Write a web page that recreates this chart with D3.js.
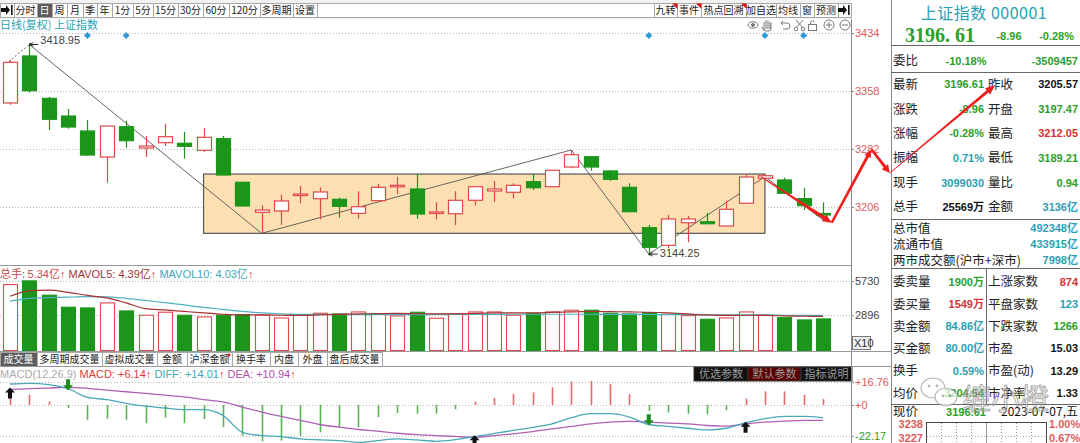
<!DOCTYPE html>
<html><head><meta charset="utf-8">
<script src="https://cdn.jsdelivr.net/npm/d3@7"></script>
<style>
body{margin:0;background:#fff;overflow:hidden;}
svg{display:block;font-family:"Liberation Sans","Noto Sans CJK SC",sans-serif;}
</style></head><body>
<div id="container"></div>
<script>
// daily candles, 上证指数
const open  = [3342.3,3403.9,3348.4,3325.2,3305.6,3271.5,3311.2,3283.3,3290.3,3289.5,3280.3,3295.5,3238.4,3199.1,3200.8,3221.3,3216.9,3216.1,3197.7,3214.3,3232.6,3229.6,3198.5,3197.2,3214.8,3227.0,3225.3,3239.2,3232.6,3258.4,3271.9,3253.2,3231.8,3178.9,3155.8,3185.4,3186.7,3181.1,3210.9,3243.6,3241.4,3216.9,3197.47]
const high  = [3398.6,3418.95,3350.5,3334.4,3320.0,3312.1,3319.1,3299.0,3315.2,3304.3,3309.5,3299.0,3238.4,3208.2,3222.1,3233.5,3231.8,3218.2,3226.6,3236.1,3245.7,3249.2,3212.2,3226.6,3232.6,3240.1,3237.1,3249.2,3254.1,3280.7,3272.0,3254.5,3237.1,3182.4,3195.5,3194.2,3198.5,3214.3,3249.2,3249.2,3244.4,3230.9,3212.05]
const low   = [3340.0,3356.0,3306.9,3308.6,3273.2,3237.8,3283.7,3271.5,3285.9,3269.3,3278.1,3247.9,3207.3,3171.5,3182.4,3210.9,3189.9,3192.0,3190.7,3214.3,3223.0,3190.7,3189.9,3182.4,3208.2,3212.6,3217.4,3228.3,3231.8,3256.7,3253.6,3240.1,3199.8,3144.25,3151.9,3159.7,3183.3,3180.2,3210.9,3243.6,3223.0,3202.1,3189.21]
const close = [3395.6,3358.4,3320.9,3310.8,3274.1,3312.1,3292.9,3285.9,3298.1,3285.5,3297.3,3247.9,3207.3,3202.1,3213.9,3223.0,3225.7,3206.9,3206.4,3231.8,3234.4,3196.8,3199.5,3214.8,3232.6,3229.6,3234.4,3231.3,3254.1,3274.5,3258.4,3242.3,3199.8,3153.2,3190.3,3190.3,3184.1,3203.0,3245.3,3247.0,3224.0,3207.7,3196.61]

const volume = [5435,5741,4560,3568,3510,3924,3263,2907,3155,2907,2767,2907,2957,2907,2684,2957,3073,3015,3180,3040,2850,3155,2660,3015,3180,3180,2907,3073,3180,3320,3320,3073,3015,3122,2990,2875,2577,2684,3180,2907,2709,2519,2602]
const mavol5 = [4477,4915,4973,4791,4543,4337,3924,3453,3345,3221,3098,2990,2932,2932,2908,2891,2932,2974,3015,3040,3056,3040,3015,3015,3056,3098,3098,3098,3139,3180,3221,3205,3180,3155,3098,3015,2932,2891,2908,2891,2850,2825,2808]
const mavol10 = [4064,4295,4353,4403,4436,4419,4295,4130,3940,3758,3552,3387,3221,3098,3015,2974,2974,2974,2957,2957,2957,2957,2974,2974,2974,2974,2990,2990,2990,2990,2990,2974,2974,2974,2957,2957,2932,2932,2932,2932,2908,2891,2891]

const macd = [7.07,7.3,2.5,-2.2,-10.7,-9.9,-10.7,-13.1,-9.2,-13.1,-10.2,-16.0,-22.3,-26.2,-25.7,-22.3,-19.7,-16.0,-16.0,-8.7,-5.8,-6.3,-6.3,-3.1,2.5,5.1,8.0,9.0,12.7,16.8,17.3,14.9,7.8,-4.4,-5.5,-6.3,-6.8,-3.9,4.7,9.8,9.8,7.3,4.2]
const diff = [15.1,15.6,14.7,11.7,5.4,3.9,1.2,-0.9,-2.2,-3.4,-3.4,-7.5,-19.7,-22.1,-22.8,-24.5,-25.2,-25.7,-27.0,-25.7,-24.5,-25.2,-26.2,-25.0,-22.8,-20.6,-18.4,-16.2,-13.6,-9.2,-6.3,-6.3,-8.7,-14.1,-15.5,-16.8,-17.9,-16.8,-12.8,-9.9,-8.2,-8.2,-9.2]
const dea = [11.2,11.7,12.2,12.7,12.0,10.7,9.5,8.3,7.1,5.8,3.9,2.2,-1.5,-5.1,-8.2,-11.1,-14.1,-16.0,-17.7,-18.9,-20.4,-21.4,-22.1,-22.7,-23.3,-22.1,-20.8,-19.2,-17.2,-15.5,-13.6,-12.4,-11.9,-12.4,-13.1,-13.6,-14.8,-15.3,-13.6,-12.4,-11.7,-11.1,-11.1]

// drawn annotations
const zigIdx = [1,13,29,33,39,42]
const zigPrice = [3418.95,3171.5,3280.7,3144.25,3245.7,3189.21]
const boxIdx = [10,39]
const boxPrice = [3171.5,3249.2]
const signalIdx = [4,6,33,39,41]
const buyIdx = [0,24,38]
const sellIdx = [3,33]
const fcIdx = [38.8,42.45,44.5,45.45,50.9]
const fcPrice = [3245.7,3185.4,3281.6,3250.5,3365.9]

const priceTicks = [3206,3282,3358,3434]
const volTicks = [2896,5730]
const macdTicks = [-22.17,0,16.76]

const width = 1080
const height = 443
const plotRight = 851
const panelLeft = 891
const candleW = 14
const green = "#1b961b"
const red = "#e0484c"
const teal = "#2a9fb4"
const txtGreen = "#2aa02a"
const txtRed = "#d23232"
const cjk = "'Noto Sans CJK SC',sans-serif"

const x = d3.scaleLinear().domain([0,42]).range([10,823])
const y = d3.scaleLinear().domain([3206,3434]).range([207,33])
const yVol = d3.scaleLinear().domain([0,5730]).range([350.5,281])
const yMacd = d3.scaleLinear().domain([-22.17,16.76]).range([435.7,381.7])
const n = close.length
const px = i => Math.round(x(i)) + 0.5

const svg = d3.select("#container").append("svg").attr("width", width).attr("height", height)
svg.append("rect").attr("width", width).attr("height", height).attr("fill", "#fff")

// ---------- top toolbar
const leftTabs = [["",14],["分时",23],["日",15],["周",15],["月",16],["季",14],["年",15],["1分",21],["5分",20],["15分",25],["30分",25],["60分",26],["120分",31],["多周期",33],["设置",24]]
const rightTabs = [["九转",23],["事件",24],["热点回溯",45],["加自选",30],["均线",24],["窗",14],["预测",24],["",13]]

svg.append("rect").attr("x",0).attr("y",0).attr("width",plotRight).attr("height",19).attr("fill","#f2f2f2")
svg.append("rect").attr("x",317.5).attr("y",3.5).attr("width",337).attr("height",14).attr("fill","#fff").attr("stroke","#aaa")

function drawTabs(items, x0, y0, h, selected, size) {
  let cx = x0
  items.forEach((t, k) => {
    const sel = t[0] === selected
    svg.append("rect").attr("x", cx + 0.5).attr("y", y0 + 0.5).attr("width", t[1]).attr("height", h)
      .attr("fill", sel ? "#5c5c5c" : "#fff").attr("stroke", "#a8a8a8")
    svg.append("text").attr("x", cx + t[1] / 2).attr("y", y0 + h / 2 + 4).attr("text-anchor", "middle")
      .attr("font-family", cjk).attr("font-size", size).attr("fill", sel ? "#fff" : "#222").text(t[0])
    t.x = cx
    cx += t[1]
  })
}
drawTabs(leftTabs, 0, 3, 14, "日", 10)
drawTabs(rightTabs, 654, 3, 14, null, 10)
// corner marks
rightTabs.slice(0,3).forEach(t => {
  const r = t.x + t[1]
  svg.append("path").attr("d", `M${r-5},3.5 L${r+0.5},3.5 L${r+0.5},9 Z`).attr("fill", "#e01010")
})
// dock icons
function dockIcon(x0) {
  const g = svg.append("g").attr("transform", `translate(${x0},10)`)
  g.append("path").attr("d", "M-5,-2 L0,-2 L0,-5 L4,0 L0,5 L0,2 L-5,2 Z").attr("fill", "#111")
  g.append("rect").attr("x", 5).attr("y", -5).attr("width", 1.6).attr("height", 10).attr("fill", "#111")
}
dockIcon(6)
dockIcon(843)

// ---------- main price panel
svg.append("text").attr("x",0).attr("y",29).attr("font-family",cjk).attr("font-size",11).attr("fill",teal).text("日线(复权)  上证指数")

svg.append("g").selectAll("line").data(priceTicks).join("line")
  .attr("x1",0).attr("x2",plotRight).attr("y1",d=>Math.round(y(d))+0.5).attr("y2",d=>Math.round(y(d))+0.5)
  .attr("stroke","#b8b8b8").attr("stroke-dasharray","1,2")

// tool icons
const icons = svg.append("g").attr("fill","none").attr("stroke","#777").attr("stroke-width",1)
icons.append("ellipse").attr("cx",753).attr("cy",25).attr("rx",5).attr("ry",3.2)
icons.append("circle").attr("cx",753).attr("cy",25).attr("r",1.5).attr("fill","#777")
icons.append("path").attr("d","M764,30 L764,22 M766,29 L766,20 M768,29 L768,20.5 M770,29 L770,22 M762,27 Q763,31 766,31 L769,31 Q771,31 771,28 L771,23")
icons.append("path").attr("d","M781,23 L787,23 Q790,23 790,26 Q790,29 787,29 L783,29 M781,23 L783,21 M781,23 L783,25")
icons.append("path").attr("d","M796,20 L803,28 M803,20 L796,28")
icons.append("circle").attr("cx",796).attr("cy",29).attr("r",1.8)
icons.append("circle").attr("cx",803).attr("cy",29).attr("r",1.8)
icons.append("rect").attr("x",808.5).attr("y",24.5).attr("width",8).attr("height",6)
icons.append("path").attr("d","M810.5,24.5 L810.5,22 Q812.5,19 814.5,22")
icons.append("circle").attr("cx",829).attr("cy",25).attr("r",5)
icons.append("path").attr("d","M826,25 L832,25 M829,22 L829,28")
icons.append("circle").attr("cx",845).attr("cy",25).attr("r",5)
icons.append("path").attr("d","M842,25 L848,25")

// signal diamonds
svg.append("g").selectAll("path").data(signalIdx).join("path")
  .attr("d", d => `M${x(d)},32 l3.5,3.5 l-3.5,3.5 l-3.5,-3.5 Z`).attr("fill", "#2f9ad8")

// consolidation box
svg.append("rect")
  .attr("x", x(boxIdx[0])).attr("y", y(boxPrice[1]))
  .attr("width", x(boxIdx[1]) - x(boxIdx[0])).attr("height", y(boxPrice[0]) - y(boxPrice[1]))
  .attr("fill", "#fde0b2").attr("stroke", "#555").attr("stroke-width", 1.2)

// zigzag
const zig = zigIdx.map((d,k) => [x(d), y(zigPrice[k])])
svg.append("path").attr("d", d3.line()(zig)).attr("fill","none").attr("stroke","#555").attr("stroke-width",0.9)
svg.append("path").attr("d", d3.line()([[x(-0.38), y(3389.8)], zig[0]]))
  .attr("fill","none").attr("stroke","#666").attr("stroke-dasharray","2,2")

// candles
const candles = svg.append("g").selectAll("g").data(d3.range(n)).join("g")
candles.append("line")
  .attr("x1", px).attr("x2", px).attr("y1", i => y(high[i])).attr("y2", i => y(low[i]))
  .attr("stroke", i => close[i] >= open[i] ? red : green).attr("stroke-width", 1.2)
candles.append("rect")
  .attr("x", i => Math.round(x(i) - candleW / 2) + 0.5)
  .attr("y", i => y(Math.max(open[i], close[i])))
  .attr("width", candleW)
  .attr("height", i => Math.max(1.5, Math.abs(y(open[i]) - y(close[i]))))
  .attr("fill", i => close[i] >= open[i] ? "#fff" : green)
  .attr("stroke", i => close[i] >= open[i] ? red : green)
  .attr("stroke-width", 1.2)

// high / low labels
function extremeLabel(i, v, dy) {
  const x0 = x(i) + 1, y0 = y(v)
  svg.append("path").attr("d", `M${x0},${y0} l8,0 M${x0},${y0} l3,-2 M${x0},${y0} l3,2`).attr("stroke", "#333").attr("fill","none")
  svg.append("circle").attr("cx", x0).attr("cy", y0).attr("r", 1.4).attr("fill", "#333")
  svg.append("text").attr("x", x0 + 10).attr("y", y0 + dy).attr("font-size", 11).attr("fill", "#444").text(d3.format(".2f")(v))
}
extremeLabel(1, high[1], 0)
extremeLabel(33, low[33], 3)

// right price axis
const axisStyle = (g, color) => {
  g.select(".domain").remove()
  g.selectAll("line").attr("stroke", "#888")
  g.selectAll("text").attr("font-size", 11).attr("fill", color).attr("font-family", "'Liberation Sans',sans-serif")
}
svg.append("g").attr("transform", `translate(${plotRight},0)`)
  .call(d3.axisRight(y).tickValues(priceTicks).tickSize(3).tickPadding(1).tickFormat(d3.format("d")))
  .call(g => axisStyle(g, "#e05a5a"))

// ---------- volume panel
svg.append("line").attr("x1",0).attr("x2",plotRight).attr("y1",265.5).attr("y2",265.5).attr("stroke","#999")
const volLabel = svg.append("text").attr("x",0).attr("y",278).attr("font-size",11)
volLabel.append("tspan").attr("fill","#c84848").attr("font-family",cjk).text("总手: ")
volLabel.append("tspan").attr("fill","#c84848").text("5.34亿")
volLabel.append("tspan").attr("fill","#e03030").text("↑ ")
volLabel.append("tspan").attr("fill","#a03434").text(" MAVOL5: 4.39亿")
volLabel.append("tspan").attr("fill","#e03030").text("↑ ")
volLabel.append("tspan").attr("fill","#3aa8b8").text(" MAVOL10: 4.03亿")
volLabel.append("tspan").attr("fill","#e03030").text("↑")

svg.append("g").selectAll("line").data(volTicks).join("line")
  .attr("x1",0).attr("x2",plotRight).attr("y1",d=>Math.round(yVol(d))+0.5).attr("y2",d=>Math.round(yVol(d))+0.5)
  .attr("stroke","#b8b8b8").attr("stroke-dasharray","1,2")

svg.append("g").selectAll("rect").data(volume).join("rect")
  .attr("x", (d,i) => Math.round(x(i) - candleW / 2) + 0.5)
  .attr("y", d => yVol(d))
  .attr("width", candleW)
  .attr("height", d => yVol(0) - yVol(d))
  .attr("fill", (d,i) => close[i] >= open[i] ? "#fff" : green)
  .attr("stroke", (d,i) => close[i] >= open[i] ? red : green)
  .attr("stroke-width", 1.1)

const volLine = d3.line().x((d,i) => x(i)).y(d => yVol(d)).curve(d3.curveMonotoneX)
svg.append("path").attr("d", volLine(mavol10)).attr("fill","none").attr("stroke","#4fb0c0").attr("stroke-width",1.2)
svg.append("path").attr("d", volLine(mavol5)).attr("fill","none").attr("stroke","#a83030").attr("stroke-width",1.2)

svg.append("g").attr("transform", `translate(${plotRight},0)`)
  .call(d3.axisRight(yVol).tickValues(volTicks).tickSize(3).tickPadding(1).tickFormat(d3.format("d")))
  .call(g => axisStyle(g, "#444"))
svg.append("rect").attr("x",852.5).attr("y",336.5).attr("width",18).attr("height",13).attr("fill","#eee").attr("stroke","#777")
svg.append("text").attr("x",854).attr("y",347).attr("font-size",11).attr("fill","#333").text("X10")

// indicator tabs
const volTabs = [["成交量",37],["多周期成交量",65],["虚拟成交量",55],["金额",30],["沪深金额",45],["换手率",38],["内盘",28],["外盘",29],["盘后成交量",55]]
svg.append("line").attr("x1",0).attr("x2",plotRight).attr("y1",351.5).attr("y2",351.5).attr("stroke","#999")
drawTabs(volTabs, 0, 352, 14, "成交量", 10)
svg.append("circle").attr("cx", volTabs[4].x + volTabs[4][1] - 3).attr("cy", 355).attr("r", 1.5).attr("fill", "#e01010")
svg.append("line").attr("x1",0).attr("x2",plotRight).attr("y1",366.5).attr("y2",366.5).attr("stroke","#999")

// ---------- MACD panel
const macdLabel = svg.append("text").attr("x",0).attr("y",378).attr("font-size",11)
macdLabel.append("tspan").attr("fill","#aaa").text("MACD(12,26,9)  ")
macdLabel.append("tspan").attr("fill","#e03c3c").text("MACD: +6.14")
macdLabel.append("tspan").attr("fill","#e03030").text("↑ ")
macdLabel.append("tspan").attr("fill","#3aa8b8").text(" DIFF: +14.01")
macdLabel.append("tspan").attr("fill","#e03030").text("↑ ")
macdLabel.append("tspan").attr("fill","#b050b0").text(" DEA: +10.94")
macdLabel.append("tspan").attr("fill","#e03030").text("↑")

const btns = [["优选参数",54,"#111"],["默认参数",53,"#5a0000"],["指标说明",51,"#111"]]
let bx = 694
btns.forEach(b => {
  svg.append("rect").attr("x",bx).attr("y",367).attr("width",b[1]).attr("height",14).attr("fill",b[2]).attr("stroke","#333")
  svg.append("text").attr("x",bx+b[1]/2).attr("y",378).attr("text-anchor","middle").attr("font-family",cjk).attr("font-size",11).attr("fill","#9a9a9a").text(b[0])
  bx += b[1]
})

svg.append("g").selectAll("line").data(macdTicks).join("line")
  .attr("x1",0).attr("x2",plotRight).attr("y1",d=>Math.round(yMacd(d))+0.5).attr("y2",d=>Math.round(yMacd(d))+0.5)
  .attr("stroke","#b8b8b8").attr("stroke-dasharray","1,2")

svg.append("g").selectAll("line").data(macd).join("line")
  .attr("x1", (d,i) => px(i)).attr("x2", (d,i) => px(i))
  .attr("y1", yMacd(0)).attr("y2", d => yMacd(d))
  .attr("stroke", d => d >= 0 ? "#e86a6a" : "#55b555").attr("stroke-width", 1.6)

const macdLine = d3.line().x((d,i) => x(i)).y(d => yMacd(d)).curve(d3.curveMonotoneX)
svg.append("path").attr("d", macdLine(dea)).attr("fill","none").attr("stroke","#b060b4").attr("stroke-width",1.3)
svg.append("path").attr("d", macdLine(diff)).attr("fill","none").attr("stroke","#4aa8b8").attr("stroke-width",1.3)

// cross signals
buyIdx.forEach(i => {
  const tip = yMacd(dea[i]) - 2
  svg.append("path").attr("d", `M${x(i)},${tip} l5,5 l-3,0 l0,6 l-4,0 l0,-6 l-3,0 Z`).attr("fill", "#111")
})
sellIdx.forEach(i => {
  const tip = yMacd(dea[i]) + 3
  svg.append("path").attr("d", `M${x(i)},${tip} l5,-5 l-3,0 l0,-6 l-4,0 l0,6 l-3,0 Z`).attr("fill", "#1a8a1a")
})

const macdAxis = svg.append("g").attr("transform", `translate(${plotRight},0)`)
  .call(d3.axisRight(yMacd).tickValues(macdTicks).tickSize(3).tickPadding(1).tickFormat(d => (d >= 0 ? "+" : "") + d))
  .call(g => axisStyle(g, "#e05a5a"))
macdAxis.selectAll("text").attr("fill", d => d < 0 ? "#2aa02a" : "#e05a5a")

// frame lines
svg.append("line").attr("x1",plotRight+0.5).attr("x2",plotRight+0.5).attr("y1",19).attr("y2",height).attr("stroke","#888")
svg.append("line").attr("x1",panelLeft+0.5).attr("x2",panelLeft+0.5).attr("y1",0).attr("y2",height).attr("stroke","#888")
svg.append("line").attr("x1",plotRight).attr("x2",panelLeft).attr("y1",351.5).attr("y2",351.5).attr("stroke","#999")
svg.append("line").attr("x1",plotRight).attr("x2",panelLeft).attr("y1",366.5).attr("y2",366.5).attr("stroke","#999")

// ---------- quote panel
const panel = svg.append("g").attr("font-family", cjk)
panel.append("text").attr("x",984).attr("y",19).attr("text-anchor","middle").attr("font-size",16).attr("fill",teal).attr("letter-spacing",0.5).text("上证指数 000001")
panel.append("text").attr("x",905).attr("y",42).attr("font-family","'Liberation Serif',serif").attr("font-weight","bold").attr("font-size",20).attr("fill",txtGreen).text("3196. 61")
panel.append("text").attr("x",1009).attr("y",40).attr("text-anchor","middle").attr("font-family","'Liberation Sans'").attr("font-weight","bold").attr("font-size",11).attr("fill",txtGreen).text("-8.96")
panel.append("text").attr("x",1074).attr("y",40).attr("text-anchor","end").attr("font-family","'Liberation Sans'").attr("font-weight","bold").attr("font-size",11).attr("fill",txtGreen).text("-0.28%")

const hl = yy => panel.append("line").attr("x1",panelLeft).attr("x2",width).attr("y1",yy).attr("y2",yy).attr("stroke","#666")
hl(45.5); hl(72.5); hl(219.5); hl(268.5); hl(404.5)
panel.append("line").attr("x1",986.5).attr("x2",986.5).attr("y1",268).attr("y2",404).attr("stroke","#666")

function label(txt, xx, yy, anchor, color) {
  panel.append("text").attr("x",xx).attr("y",yy).attr("text-anchor",anchor || "start").attr("font-size",12.5).attr("fill",color || "#222").text(txt)
}
function value(txt, xx, yy, anchor, color) {
  panel.append("text").attr("x",xx).attr("y",yy).attr("text-anchor",anchor).attr("font-family","'Liberation Sans','Noto Sans CJK SC'")
    .attr("font-weight","bold").attr("font-size",11).attr("fill",color).text(txt)
}
label("委比", 893, 65)
value("-10.18%", 966, 64.5, "middle", txtGreen)
value("-3509457", 1078, 64.5, "end", txtGreen)

const rowsL = [["最新","3196.61",txtGreen],["涨跌","-8.96",txtGreen],["涨幅","-0.28%",txtGreen],["振幅","0.71%",teal],["现手","3099030",teal],["总手","25569万","#111"]]
const rowsR = [["昨收","3205.57","#111"],["开盘","3197.47",txtGreen],["最高","3212.05",txtRed],["最低","3189.21",txtGreen],["量比","0.94",txtGreen],["金额","3136亿",teal]]
const rowY = [84.3,109.3,133.3,157.7,182.7,206.7]
rowsL.forEach((r,k) => { label(r[0], 893, rowY[k]+4.5); value(r[1], 984, rowY[k]+4, "end", r[2]) })
rowsR.forEach((r,k) => { label(r[0], 988, rowY[k]+4.5); value(r[1], 1078, rowY[k]+4, "end", r[2]) })

const rowsM = [["总市值","492348亿"],["流通市值","433915亿"],["两市成交额(沪市+深市)","7998亿"]]
const rowMY = [228.3,244,260]
rowsM.forEach((r,k) => { label(r[0], 893, rowMY[k]+4.5); value(r[1], 1078, rowMY[k]+4, "end", teal) })

const rowsB = [["委卖量","1900万",txtGreen],["委买量","1549万",txtRed],["卖金额","84.86亿",teal],["买金额","80.00亿",teal],["换手","0.59%",teal],["均价","3204.54",txtGreen]]
const rowsB2 = [["上涨家数","874",txtRed],["平盘家数","123",teal],["下跌家数","1266",txtGreen],["市盈","15.03","#111"],["市盈(动)","13.29","#111"],["市净率","1.33","#111"]]
const rowBY = [281.7,304,326,348.3,370.7,393.3]
rowsB.forEach((r,k) => { label(r[0], 893, rowBY[k]+4.5); value(r[1], 984, rowBY[k]+4, "end", r[2]) })
rowsB2.forEach((r,k) => { label(r[0], 988, rowBY[k]+4.5); value(r[1], 1078, rowBY[k]+4, "end", r[2]) })

label("现价", 893, 416)
value("3196.61", 966, 415.5, "middle", txtGreen)
panel.append("text").attr("x",1078).attr("y",416).attr("text-anchor","end").attr("font-size",12).attr("fill","#111").text("2023-07-07,五")

// mini chart
panel.append("rect").attr("x",926.5).attr("y",422.5).attr("width",120).attr("height",30).attr("fill","none").attr("stroke","#444")
d3.range(1,8).forEach(k => {
  panel.append("line").attr("x1",926.5+k*15).attr("x2",926.5+k*15).attr("y1",423).attr("y2",443)
    .attr("stroke","#999").attr("stroke-dasharray", k === 4 ? null : "1,2")
})
panel.append("line").attr("x1",927).attr("x2",1046).attr("y1",436.5).attr("y2",436.5).attr("stroke","#aaa").attr("stroke-dasharray","1,2")
value("3238", 923, 427.5, "end", "#e05a5a")
value("3227", 923, 441.5, "end", "#e05a5a")
value("1.00%", 1049, 427.5, "start", "#e05a5a")
value("0.67%", 1049, 441.5, "start", "#e05a5a")

// watermark
const wm = svg.append("g").attr("opacity",0.7)
wm.append("ellipse").attr("cx",933).attr("cy",388).attr("rx",12).attr("ry",10).attr("fill","#fff").attr("stroke","#999").attr("stroke-width",1.2)
wm.append("ellipse").attr("cx",946).attr("cy",397).attr("rx",11).attr("ry",9).attr("fill","#fff").attr("stroke","#999").attr("stroke-width",1.2)
;[[929,386],[937,386],[943,396],[950,396]].forEach(p => wm.append("circle").attr("cx",p[0]).attr("cy",p[1]).attr("r",1.4).attr("fill","#999"))
wm.append("text").attr("x",962).attr("y",410).attr("font-family",cjk).attr("font-size",29).attr("fill","rgba(255,255,255,0.55)")
  .attr("stroke","#8a8a8a").attr("stroke-width",1).text("缠小橙")

// ---------- forecast arrows (drawn on top)
function taper(p0, p1, w0, w1, hl, hw) {
  const dx = p1[0]-p0[0], dy = p1[1]-p0[1], L = Math.hypot(dx,dy)
  const ux = dx/L, uy = dy/L, nx = -uy, ny = ux
  const bx = p1[0]-ux*hl, by = p1[1]-uy*hl
  return [
    [p0[0]+nx*w0/2, p0[1]+ny*w0/2], [bx+nx*w1/2, by+ny*w1/2], [bx+nx*hw/2, by+ny*hw/2], p1,
    [bx-nx*hw/2, by-ny*hw/2], [bx-nx*w1/2, by-ny*w1/2], [p0[0]-nx*w0/2, p0[1]-ny*w0/2]
  ]
}
const fc = fcIdx.map((d,k) => [x(d), y(fcPrice[k])])
const fcStyle = [[1,3.5,9,8],[2.5,3,8,7],[2.5,3,8,8],[0.8,3,10,8]]
fcStyle.forEach((s,k) => {
  svg.append("path").attr("d", d3.line()(taper(fc[k], fc[k+1], s[0], s[1], s[2], s[3])) + "Z").attr("fill", "#f21d1d")
})
</script></body></html>
